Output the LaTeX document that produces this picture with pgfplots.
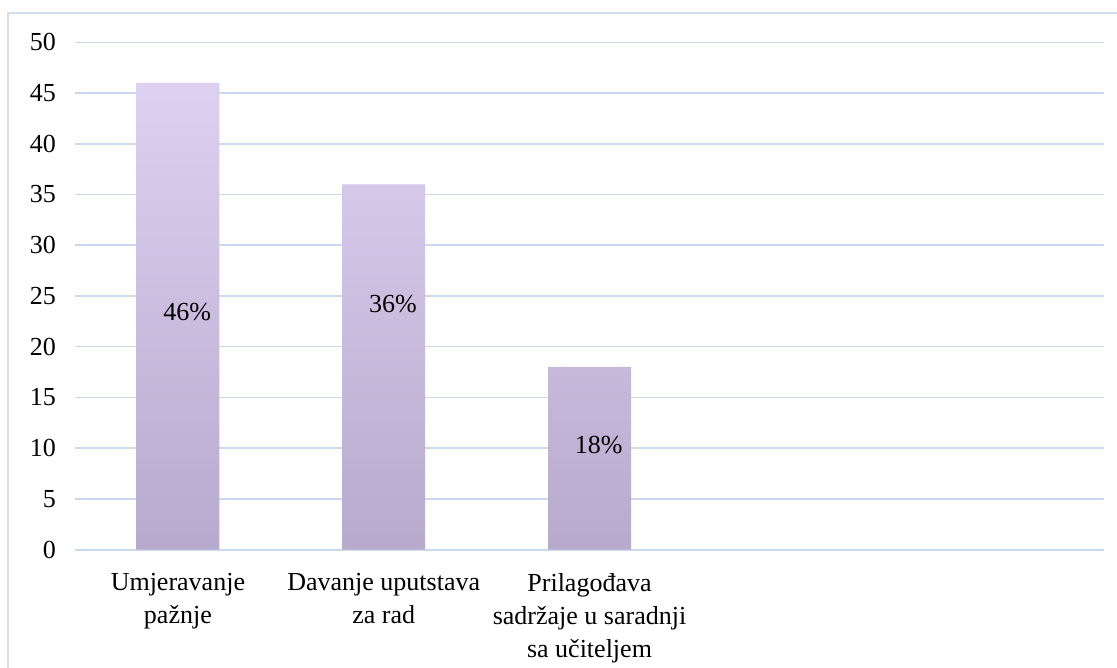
\documentclass[border=0pt]{standalone}
\usepackage{fontspec}
\setmainfont{Liberation Serif}
\usepackage{pgfplots}
\pgfplotsset{compat=1.18}
\definecolor{gridc}{RGB}{200,217,240}
\definecolor{framec}{RGB}{210,222,240}
\definecolor{bartop}{RGB}{222,208,241}
\definecolor{barbot}{RGB}{184,170,204}
\begin{document}
\fontsize{13}{16.5}\selectfont
\begin{tikzpicture}
\useasboundingbox (0,0) rectangle (558.5pt,-334pt);
\draw[framec, line width=0.8pt] (4pt,-700pt) -- (4pt,-6.5pt) -- (700pt,-6.5pt);
\begin{axis}[
  at={(37.5pt,-274.75pt)}, anchor=south west,
  scale only axis, width=514.5pt, height=253.6pt,
  xmin=-0.5, xmax=4.5, ymin=0, ymax=50,
  ytick={0,5,...,50},
  xtick={0,1,2},
  xticklabels={{Umjeravanje\\pažnje},{Davanje uputstava\\za rad},{Prilagođava\\sadržaje u saradnji\\sa učiteljem}},
  xticklabel style={align=center, yshift=-7.5pt, font=\fontsize{13}{16.5}\selectfont},
  yticklabel style={xshift=-5pt, font=\fontsize{13}{16}\selectfont},
  /pgf/number format/assume math mode=true,
  axis line style={draw=none},
  axis x line*=bottom,
  axis y line*=left,
  major tick length=0pt,
  ymajorgrids, grid style={gridc, line width=0.75pt},
  extra y ticks={0}, extra y tick labels={},
  extra y tick style={grid style={gridc, line width=1pt}},
  clip=false,
]
\addplot[ybar, bar width=41.5pt, draw=none, top color=bartop, bottom color=barbot]
  coordinates {(0,46) (1,36) (2,18)};
\node at (axis cs:0.045,23.4) {46\%};
\node at (axis cs:1.045,24.2) {36\%};
\node at (axis cs:2.045,10.3) {18\%};
\end{axis}
\end{tikzpicture}
\end{document}
